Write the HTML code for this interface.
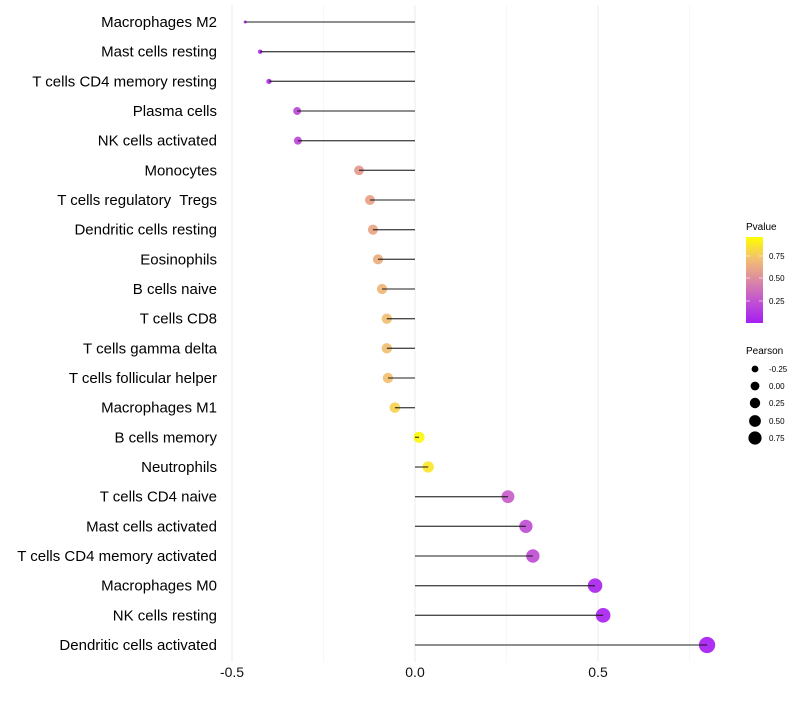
<!DOCTYPE html>
<html><head><meta charset="utf-8"><style>
body{margin:0;background:#fff;font-family:"Liberation Sans",sans-serif}
text{white-space:pre}
</style></head><body>
<svg id="chart" width="800" height="700" xmlns="http://www.w3.org/2000/svg">
<defs><linearGradient id="pg" x1="0" y1="1" x2="0" y2="0">
<stop offset="0" stop-color="#a61ef2"/><stop offset="0.25" stop-color="#c052d2"/><stop offset="0.5" stop-color="#dc8aa2"/><stop offset="0.75" stop-color="#f2c070"/><stop offset="1" stop-color="#ffff00"/></linearGradient></defs>
<g id="grid"></g><g id="pts"></g><g id="marks"></g><g id="labels"></g>
<g>
<text x="746" y="230" font-size="10">Pvalue</text>
<rect x="746" y="237" width="17" height="86" fill="url(#pg)"/>
<line x1="746" x2="750" y1="256" y2="256" stroke="#fff" opacity="0.6"/><line x1="759" x2="763" y1="256" y2="256" stroke="#fff" opacity="0.6"/>
<line x1="746" x2="750" y1="278" y2="278" stroke="#fff" opacity="0.6"/><line x1="759" x2="763" y1="278" y2="278" stroke="#fff" opacity="0.6"/>
<line x1="746" x2="750" y1="301" y2="301" stroke="#fff" opacity="0.6"/><line x1="759" x2="763" y1="301" y2="301" stroke="#fff" opacity="0.6"/>
<text x="769" y="259" font-size="8">0.75</text><text x="769" y="281" font-size="8">0.50</text><text x="769" y="304" font-size="8">0.25</text>
</g>
<g>
<text x="746" y="354" font-size="10">Pearson</text>
<circle cx="755" cy="369" r="3.4"/><text x="769" y="372" font-size="8">-0.25</text>
<circle cx="755" cy="386" r="4.4"/><text x="769" y="389" font-size="8">0.00</text>
<circle cx="755" cy="403" r="5.2"/><text x="769" y="406" font-size="8">0.25</text>
<circle cx="755" cy="421" r="5.9"/><text x="769" y="424" font-size="8">0.50</text>
<circle cx="755" cy="438" r="6.6"/><text x="769" y="441" font-size="8">0.75</text>
</g>
</svg>
<script>
const cells=["Macrophages M2","Mast cells resting","T cells CD4 memory resting","Plasma cells","NK cells activated","Monocytes","T cells regulatory  Tregs","Dendritic cells resting","Eosinophils","B cells naive","T cells CD8","T cells gamma delta","T cells follicular helper","Macrophages M1","B cells memory","Neutrophils","T cells CD4 naive","Mast cells activated","T cells CD4 memory activated","Macrophages M0","NK cells resting","Dendritic cells activated"];
const pearson=[-0.464,-0.423,-0.399,-0.322,-0.32,-0.153,-0.123,-0.115,-0.101,-0.09,-0.077,-0.077,-0.074,-0.055,0.011,0.036,0.254,0.303,0.322,0.492,0.514,0.798];
const pvalue=[0.03,0.05,0.07,0.17,0.17,0.56,0.6,0.62,0.66,0.7,0.74,0.74,0.75,0.82,0.97,0.9,0.27,0.2,0.2,0.03,0.02,0.0];
const xTicks=[-0.5,0,0.5];
const xTickLabels=["-0.5","0.0","0.5"];
const minorTicks=[-0.25,0.25,0.75];
const NS="http://www.w3.org/2000/svg";
const xs=v=>415+v*366;
const ys=i=>22+i*(623/21);
function col(p){const st=[[0,[166,30,242]],[0.25,[198,90,205]],[0.5,[225,140,150]],[0.75,[242,192,112]],[1,[255,255,0]]];
for(let k=0;k<st.length-1;k++){if(p<=st[k+1][0]){const t=(p-st[k][0])/(st[k+1][0]-st[k][0]);const a=st[k][1],b=st[k+1][1];return`rgb(${a.map((c,j)=>Math.round(c+(b[j]-c)*t)).join(",")})`;}}return"rgb(255,255,0)";}
function rad(v){if(v<-0.32)return Math.max(1.5,1.5+(v+0.464)*(2.5/0.144));return Math.sqrt(16+(v+0.32)*45);}
function mk(t,a,p){const e=document.createElementNS(NS,t);for(const k in a)e.setAttribute(k,a[k]);p.appendChild(e);return e;}
const g=document.getElementById("grid"),pg=document.getElementById("pts"),m=document.getElementById("marks"),l=document.getElementById("labels");
minorTicks.forEach(v=>{const e=mk("line",{x1:xs(v),x2:xs(v),y1:5,y2:662,stroke:"#f2f2f2","stroke-width":0.6},g);

});
xTicks.forEach((v,i)=>{const e=mk("line",{x1:xs(v),x2:xs(v),y1:5,y2:662,stroke:"#ebebeb","stroke-width":1},g);


const t=mk("text",{x:xs(v),y:677,"font-size":14,"text-anchor":"middle",fill:"#111"},l);t.textContent=xTickLabels[i];

});
cells.forEach((c,i)=>{const y=ys(i);
const pt=mk("circle",{cx:xs(pearson[i]),cy:y,r:rad(pearson[i]),fill:col(pvalue[i]),"fill-opacity":0.92},pg);


const ln=mk("line",{x1:xs(0),x2:xs(pearson[i]),y1:y,y2:y,stroke:"#111","stroke-width":1.3,opacity:0.75},m);


const t=mk("text",{x:217,y:y+5,"font-size":15,"text-anchor":"end",fill:"#000"},l);t.textContent=c;

});
</script>
</body></html>
